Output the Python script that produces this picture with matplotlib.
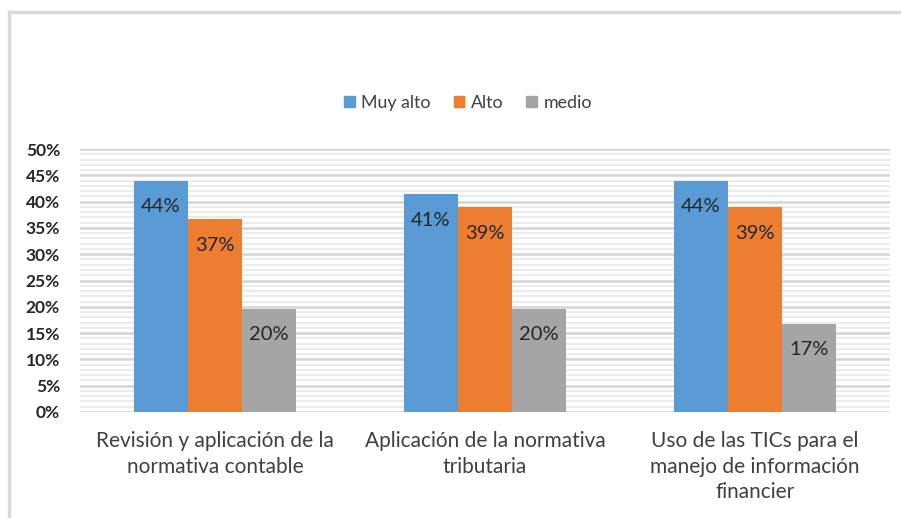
import matplotlib
matplotlib.use("Agg")
import matplotlib.pyplot as plt
import numpy as np
from matplotlib.lines import Line2D
from matplotlib.ticker import MultipleLocator, FuncFormatter

categories = ["Revisión y aplicación de la\nnormativa contable",
              "Aplicación de la normativa\ntributaria",
              "Uso de las TICs para el\nmanejo de información\nfinancier"]
series_names = ["Muy alto", "Alto", "medio"]
muy_alto = [44.0, 41.4, 44.0]
alto = [36.6, 38.9, 38.9]
medio = [19.6, 19.6, 16.8]
yticks = [0, 5, 10, 15, 20, 25, 30, 35, 40, 45, 50]

colors = ["#5b9bd5", "#ed7d31", "#a5a5a5"]
plt.rcParams['font.family'] = ['Lato', 'DejaVu Sans']

fig = plt.figure(figsize=(9.01, 5.18), dpi=100)
ax = fig.add_axes([80/901, 1-412/518, 810/901, 263/518])

x = np.arange(len(categories))
w = 0.2
for i, (vals, name, c) in enumerate(zip([muy_alto, alto, medio], series_names, colors)):
    bars = ax.bar(x + (i - 1) * w, vals, w, color=c, label=name, zorder=3)
    for b, v in zip(bars, vals):
        ax.annotate(f"{v:.0f}%", (b.get_x() + b.get_width()/2, v),
                    xytext=(0, -26), textcoords="offset pixels",
                    ha="center", va="center", fontsize=14.5, color="#262626", zorder=4)

ax.set_xlim(-0.5, 2.5)
ax.set_ylim(0, 50)
ax.set_yticks(yticks)
ax.yaxis.set_major_formatter(FuncFormatter(lambda v, p: f"{v:.0f}%"))
ax.yaxis.set_minor_locator(MultipleLocator(1))
ax.grid(which="major", axis="y", color="#d4d4d4", linewidth=1.8, zorder=0)
ax.grid(which="minor", axis="y", color="#ececec", linewidth=1.5, zorder=0)
for s in ax.spines.values():
    s.set_visible(False)
ax.tick_params(axis="y", which="both", length=0, pad=14.4, labelsize=12.5, labelcolor="#262626")
for t in ax.get_yticklabels():
    t.set_fontweight("bold")
ax.set_xticks(x)
ax.set_xticklabels(categories, fontsize=15, color="#404040", linespacing=1.32)
ax.tick_params(axis="x", length=0, pad=14)

handles = [plt.Rectangle((0, 0), 1, 1, color=c) for c in colors]
fig.legend(handles, series_names, loc="center", bbox_to_anchor=(468/901, 1-103/518),
           ncol=3, frameon=False, fontsize=12.8, handlelength=0.6, handleheight=0.6,
           handletextpad=0.35, columnspacing=1.3, labelcolor="#404040")

fig.add_artist(Line2D([9/901, 9/901], [0, 1-12/518], color="#d9d9d9", lw=2.5, transform=fig.transFigure))
fig.add_artist(Line2D([9/901, 1], [1-12/518, 1-12/518], color="#d9d9d9", lw=2.5, transform=fig.transFigure))

fig.savefig("out.png", dpi=100)
